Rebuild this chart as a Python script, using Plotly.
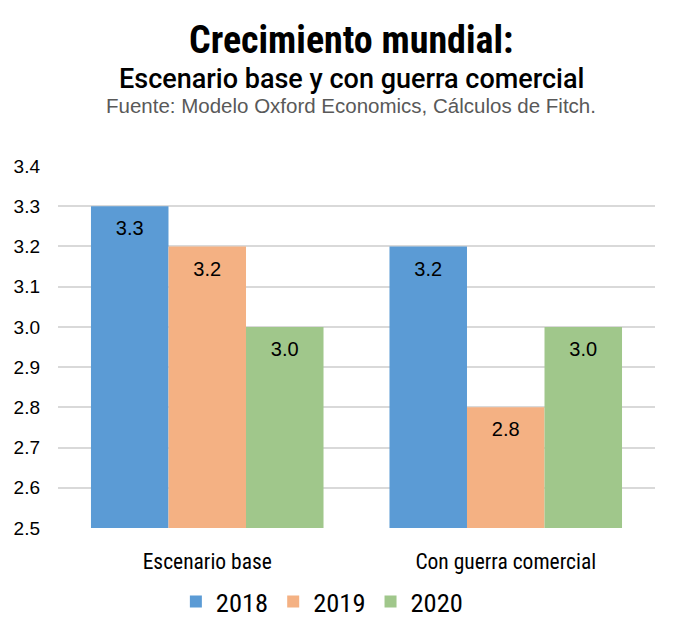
import plotly.graph_objects as go

categories = ["Escenario base", "Con guerra comercial"]
years = ["2018", "2019", "2020"]
v2018 = [3.3, 3.2]
v2019 = [3.2, 2.8]
v2020 = [3.0, 3.0]
series = [v2018, v2019, v2020]
colors = ["#5b9bd5", "#f4b183", "#a0c78b"]

title = "Crecimiento mundial:"
subtitle = "Escenario base y con guerra comercial"
source = "Fuente: Modelo Oxford Economics, Cálculos de Fitch."

COND = "Roboto Condensed, Liberation Sans Narrow, sans-serif"
ROB = "Roboto, Liberation Sans, sans-serif"
REG = "Liberation Sans, Arial, sans-serif"

fig = go.Figure()
for name, vals, c in zip(years, series, colors):
    fig.add_trace(go.Bar(
        x=categories, y=vals, name=name, marker_color=c,
        marker_line_width=0,
        hoverinfo="x+y+name",
    ))
# value labels: text-only scatter traces grouped like the bars
for name, vals in zip(years, series):
    fig.add_trace(go.Scatter(
        x=categories, y=vals, mode="markers+text", orientation="v",
        text=[f"{v:.1f}" for v in vals], textposition="bottom center",
        textfont=dict(family=REG, size=20, color="#000000"),
        marker=dict(size=21, opacity=0), showlegend=False,
        hoverinfo="skip", cliponaxis=False, name=name,
    ))

fig.update_layout(
    width=676, height=638,
    barmode="group", bargap=0.221, bargroupgap=0,
    scattermode="group", scattergap=0.221,
    plot_bgcolor="white", paper_bgcolor="white",
    margin=dict(l=58, r=21, t=166, b=110),
    showlegend=True,
    legend=dict(orientation="h", x=0.442, xanchor="center", y=-0.204, yanchor="middle",
                font=dict(family=COND, size=26.5, color="#000000"),
                traceorder="normal", bgcolor="rgba(0,0,0,0)"),
    xaxis=dict(tickfont=dict(family=COND, size=21.5, color="#000000"),
               showline=False, ticks="", ticklabelstandoff=18),
    yaxis=dict(range=[2.5, 3.4], dtick=0.1, tick0=2.5, tickformat=".1f",
               showgrid=True, gridcolor="#d9d9d9", gridwidth=1.5,
               zeroline=False, ticks="",
               tickfont=dict(family=REG, size=19, color="#000000"),
               ticklabelstandoff=17),
)

fig.add_annotation(text=title, xref="paper", yref="paper", x=0.4916, y=1.3467,
                   yanchor="middle", showarrow=False,
                   font=dict(family=COND, size=38, color="#000000", weight="bold"))
fig.add_annotation(text=subtitle, xref="paper", yref="paper", x=0.4916, y=1.240,
                   yanchor="middle", showarrow=False,
                   font=dict(family=ROB, size=27, color="#000000", weight=500))
fig.add_annotation(text=source, xref="paper", yref="paper", x=0.4916, y=1.1685,
                   yanchor="middle", showarrow=False,
                   font=dict(family=REG, size=20.5, color="#595959"))

fig.write_html("out.html", config={"displayModeBar": False},
               post_script="document.body.style.margin='0px';")
